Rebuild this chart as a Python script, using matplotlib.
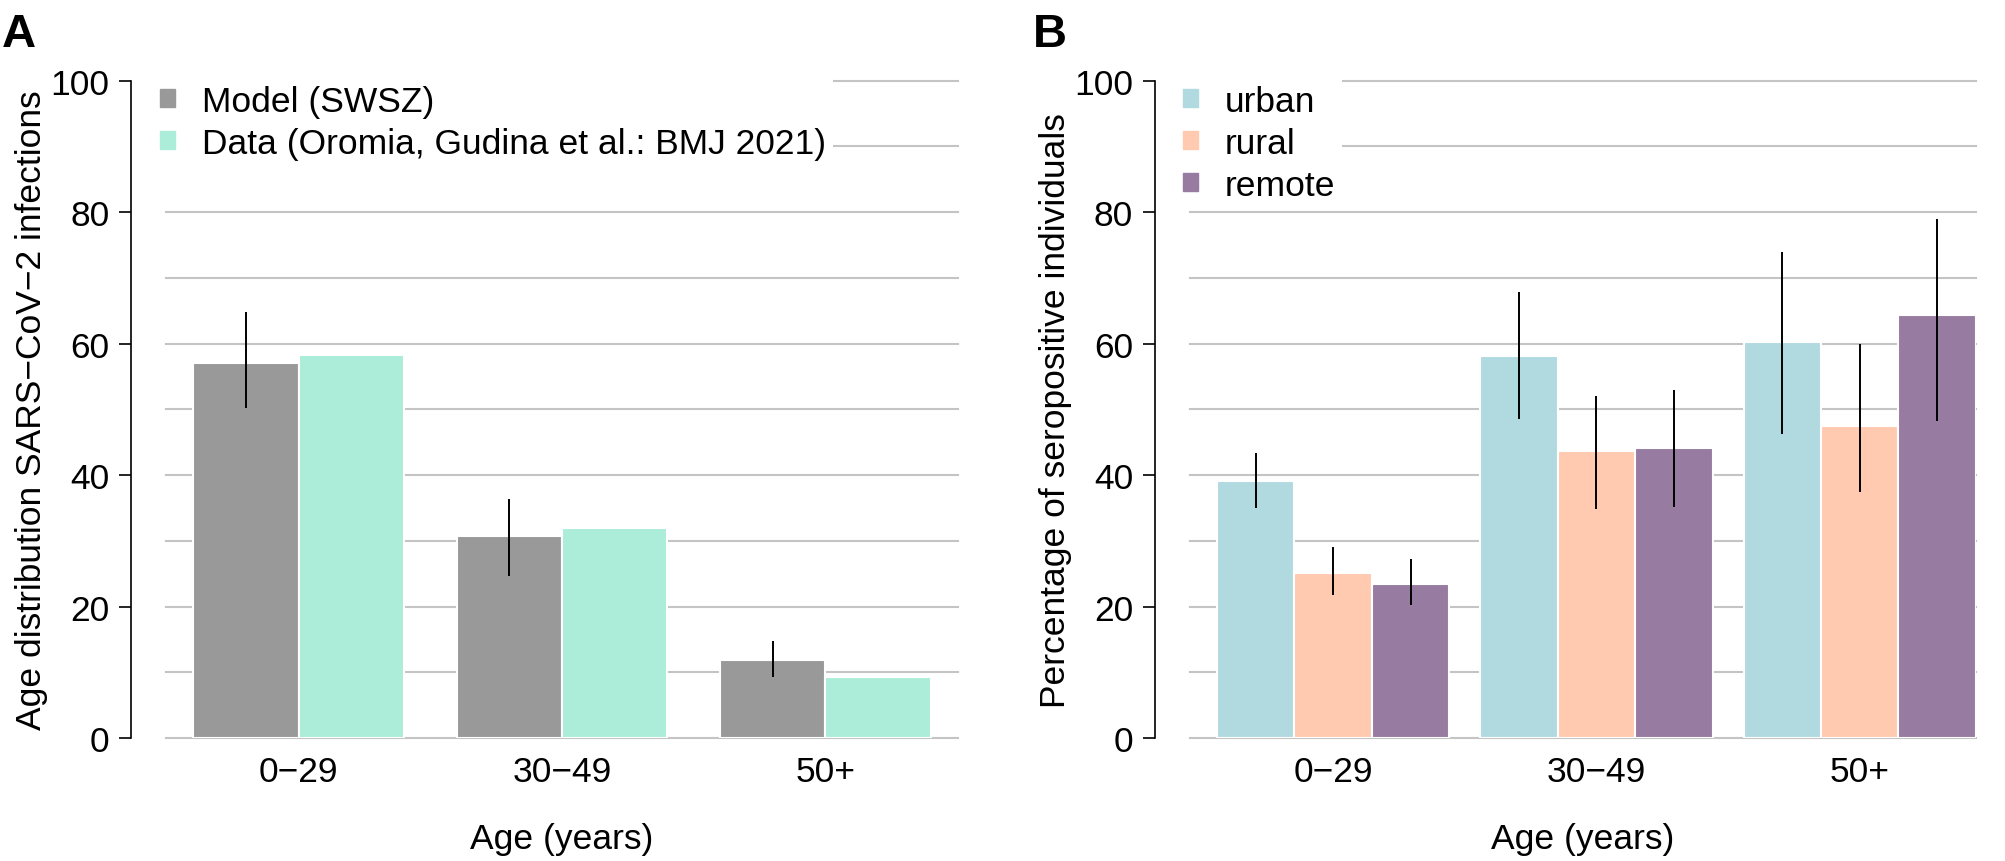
import matplotlib
matplotlib.use('Agg')
import matplotlib.pyplot as plt
from matplotlib.patches import Patch

plt.rcParams['font.family'] = ['Liberation Sans', 'DejaVu Sans']

# Panel A data: age distribution of infections (%)
age_groups = ['0\u221229', '30\u221249', '50+']
model_vals = [57.1, 30.7, 11.8]
model_lo = [50.2, 24.6, 9.3]
model_hi = [64.8, 36.3, 14.7]
data_vals = [58.3, 32.0, 9.3]

# Panel B data: seropositive percentage by setting
urban_vals = [39.1, 58.1, 60.3]
urban_lo = [35.0, 48.6, 46.3]
urban_hi = [43.4, 67.9, 74.0]
rural_vals = [25.1, 43.7, 47.4]
rural_lo = [21.8, 34.8, 37.4]
rural_hi = [29.0, 52.1, 60.0]
remote_vals = [23.4, 44.1, 64.4]
remote_lo = [20.2, 35.1, 48.2]
remote_hi = [27.3, 53.0, 79.0]

FS = 25.5
GRID = '#C4C4C4'


def style_axis(ax, xlim):
    ax.set_xlim(*xlim)
    ax.set_ylim(0, 100)
    for y in range(0, 101, 10):
        ax.axhline(y, color=GRID, lw=1.5, zorder=0, clip_on=False)
    for s in ['top', 'right', 'bottom']:
        ax.spines[s].set_visible(False)
    ax.spines['left'].set_position(('outward', 25))
    ax.spines['left'].set_bounds(0, 100)
    ax.spines['left'].set_linewidth(1.2)
    ax.set_yticks(range(0, 101, 20))
    ax.tick_params(axis='y', length=8.6, width=1.2, pad=7, labelsize=FS)
    ax.tick_params(axis='x', length=0, pad=12, labelsize=FS)


def grouped_bars(ax, series, colors, gap):
    n = len(series)
    step = n + gap
    for j, (vals, lo, hi) in enumerate(series):
        lefts = [g * step + j for g in range(len(vals))]
        ax.bar(lefts, vals, width=1, align='edge', color=colors[j],
               edgecolor='white', linewidth=1.5, zorder=2)
        if lo is not None:
            centers = [x + 0.5 for x in lefts]
            ax.vlines(centers, lo, hi, color='black', lw=1.4, zorder=3)
    centers = [g * step + n / 2 for g in range(len(series[0][0]))]
    ax.set_xticks(centers)
    ax.set_xticklabels(age_groups)
    return (len(series[0][0]) - 1) * step + n


def add_legend(ax, colors, labels, x0):
    handles = [Patch(color=c) for c in colors]
    leg = ax.legend(handles, labels, loc='upper left', bbox_to_anchor=(x0, 1.005),
                    fontsize=FS, frameon=True, facecolor='white', edgecolor='none',
                    framealpha=1, fancybox=False, handlelength=0.42, handleheight=0.42,
                    handletextpad=0.75, labelspacing=0.26, borderpad=0.2,
                    borderaxespad=0)
    leg.set_zorder(5)


fig = plt.figure(figsize=(20.06, 8.62), dpi=100)
axA = fig.add_axes([0.0828, 0.1427, 0.3948, 0.7625])
axB = fig.add_axes([0.593, 0.1427, 0.392, 0.7625])

# Panel A
colsA = ['#999999', '#ABEDD8']
endA = grouped_bars(axA, [(model_vals, model_lo, model_hi),
                          (data_vals, None, None)], colsA, 0.5)
style_axis(axA, (-0.26, endA + 0.26))
axA.set_xlabel('Age (years)', fontsize=FS, labelpad=24.5)
axA.set_ylabel('Age distribution SARS\u2212CoV\u22122 infections', fontsize=FS,
               va='baseline')
axA.yaxis.set_label_coords(-0.1585, 0.5)
add_legend(axA, colsA, ['Model (SWSZ)', 'Data (Oromia, Gudina et al.: BMJ 2021)'], -0.0164)

# Panel B
colsB = ['#B0DAE0', '#FFCAB0', '#987BA1']
endB = grouped_bars(axB, [(urban_vals, urban_lo, urban_hi),
                          (rural_vals, rural_lo, rural_hi),
                          (remote_vals, remote_lo, remote_hi)], colsB, 0.4)
style_axis(axB, (-0.355, endB))
axB.set_xlabel('Age (years)', fontsize=FS, labelpad=24.5)
axB.set_ylabel('Percentage of seropositive individuals', fontsize=FS, va='baseline')
axB.yaxis.set_label_coords(-0.1585, 0.5)
add_legend(axB, colsB, ['urban', 'rural', 'remote'], -0.017)

fig.text(0.001, 0.9455, 'A', fontsize=34, fontweight='bold', va='baseline')
fig.text(0.515, 0.9455, 'B', fontsize=34, fontweight='bold', va='baseline')

fig.savefig('out.png', dpi=100)
